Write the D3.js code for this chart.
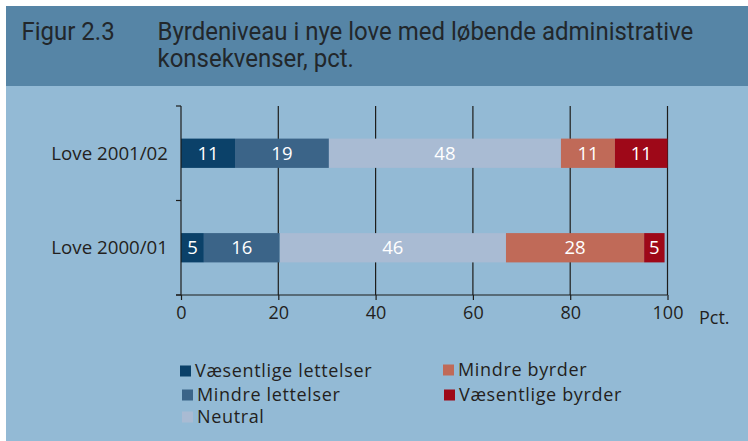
<!DOCTYPE html>
<html>
<head>
<meta charset="utf-8">
<script src="https://cdn.jsdelivr.net/npm/d3@7"></script>
<style>
  body { margin: 0; background: #fff; }
  svg { display: block; }
  .tick-label, .cat-label, .legend-label, .unit-label { font-family: "Open Sans", "Noto Sans", sans-serif; fill: #231f20; }
  .bar-label { font-family: "Open Sans", "Noto Sans", sans-serif; fill: #fff; }
  .title { font-family: Roboto, "Liberation Sans", sans-serif; font-weight: 400; fill: #22272b; }
</style>
</head>
<body>
<svg id="chart"></svg>
<script>
// Data (stacked shares in pct.)
const categories = ['Love 2001/02', 'Love 2000/01'];
const seriesNames = ['Væsentlige lettelser', 'Mindre lettelser', 'Neutral', 'Mindre byrder', 'Væsentlige byrder'];
const seriesColors = ['#0b4169', '#3b6488', '#a9bbd3', '#c06a58', '#9e0818'];
const values2001 = [11.1, 19.3, 47.7, 11.1, 10.8];
const values2000 = [4.7, 15.6, 46.5, 28.4, 4.2];
const labels2001 = ['11', '19', '48', '11', '11'];
const labels2000 = ['5', '16', '46', '28', '5'];
const xTicks = [0, 20, 40, 60, 80, 100];
const titleLines = ['Byrdeniveau i nye love med løbende administrative', 'konsekvenser, pct.'];

const W = 748, H = 441;
const svg = d3.select('#chart').attr('width', W).attr('height', H);

// Background panels
svg.append('rect').attr('x', 6).attr('y', 6).attr('width', W - 6).attr('height', H - 6).attr('fill', '#93bad5');
svg.append('rect').attr('x', 6).attr('y', 6).attr('width', W - 6).attr('height', 80).attr('fill', '#5685a6');

// Title (two tight lines, as in the original), squeezed horizontally to look condensed
const title = svg.append('text').attr('class', 'title').style('font-size', '26.5px');
title.selectAll('tspan').data(titleLines).enter().append('tspan')
  .attr('x', 0).attr('y', (d, i) => 40.5 + i * 26.3).text(d => d);
const fig = svg.append('text').attr('class', 'title').style('font-size', '26.5px').attr('y', 40.5).text('Figur 2.3');
const sx = 536 / title.select('tspan').node().getComputedTextLength();
title.attr('transform', `translate(157.5,0) scale(${sx},1)`);
fig.attr('transform', `translate(21.5,0) scale(${sx},1)`);

// Chart area
const margin = { top: 106, left: 181 };
const width = 486.5, height = 189;
const g = svg.append('g').attr('transform', `translate(${margin.left},${margin.top})`);

const x = d3.scaleLinear().domain([0, 100]).range([0, width]);
const y = d3.scaleBand().domain(categories).range([0, height]).paddingInner(0.69).paddingOuter(0.345);
const yStep = d3.scaleBand().domain(categories).range([0, height]);

// Gridlines
g.selectAll('.grid').data(xTicks.slice(1)).enter().append('line')
  .attr('x1', d => x(d)).attr('x2', d => x(d))
  .attr('y1', 0).attr('y2', height)
  .attr('stroke', '#1d1d1b').attr('stroke-width', 1.2);

// Stacked bars
const rows = [
  { cat: categories[0], values: values2001, labels: labels2001 },
  { cat: categories[1], values: values2000, labels: labels2000 }
];
rows.forEach(row => {
  let acc = 0;
  row.values.forEach((v, i) => {
    const x0 = acc;
    acc += v;
    g.append('rect')
      .attr('x', x(x0)).attr('width', x(acc) - x(x0))
      .attr('y', y(row.cat)).attr('height', y.bandwidth())
      .attr('fill', seriesColors[i]);
    g.append('text').attr('class', 'bar-label')
      .attr('x', x(x0 + v / 2)).attr('y', y(row.cat) + y.bandwidth() / 2)
      .attr('text-anchor', 'middle').attr('dy', '0.36em')
      .style('font-size', '18.5px')
      .text(row.labels[i]);
  });
});

// Y axis: line plus ticks on band boundaries
g.append('line').attr('x1', 0).attr('x2', 0).attr('y1', 0).attr('y2', height)
  .attr('stroke', '#1d1d1b').attr('stroke-width', 1.2);
const bounds = [0].concat(categories.map(c => yStep(c) + yStep.bandwidth()));
g.selectAll('.ytick').data(bounds).enter().append('line')
  .attr('x1', -5).attr('x2', 0).attr('y1', d => d).attr('y2', d => d)
  .attr('stroke', '#1d1d1b').attr('stroke-width', 1.2);
g.selectAll('.cat-label').data(categories).enter().append('text')
  .attr('class', 'cat-label')
  .attr('x', -13).attr('y', d => y(d) + y.bandwidth() / 2)
  .attr('dy', '0.36em').attr('text-anchor', 'end')
  .style('font-size', '18.7px')
  .text(d => d);

// X axis
const xAxis = g.append('g').attr('transform', `translate(0,${height})`)
  .call(d3.axisBottom(x).tickValues(xTicks).tickSize(5).tickPadding(6).tickSizeOuter(0));
xAxis.select('.domain').attr('stroke', '#1d1d1b').attr('stroke-width', 1.2).attr('d', `M-5,0H${width}`);
xAxis.selectAll('.tick line').attr('stroke', '#1d1d1b').attr('stroke-width', 1.2);
xAxis.selectAll('.tick text').attr('class', 'tick-label').style('font-size', '18px').attr('fill', '#231f20');
xAxis.attr('font-family', null);

g.append('text').attr('class', 'unit-label')
  .attr('x', 518).attr('y', 218).style('font-size', '18px').text('Pct.');

// Legend
const legendPos = [
  { x: 180, y: 371 }, { x: 182, y: 395 }, { x: 182, y: 417 },
  { x: 443, y: 370 }, { x: 444, y: 395 }
];
const legend = svg.append('g');
seriesNames.forEach((name, k) => {
  const p = legendPos[k];
  legend.append('rect').attr('x', p.x).attr('y', p.y - 5.5).attr('width', 11).attr('height', 11)
    .attr('fill', seriesColors[k]);
  legend.append('text').attr('class', 'legend-label')
    .attr('x', p.x + 15).attr('y', p.y).attr('dy', '0.36em')
    .style('font-size', '18px').style('letter-spacing', '0.65px')
    .text(name);
});
</script>
</body>
</html>
